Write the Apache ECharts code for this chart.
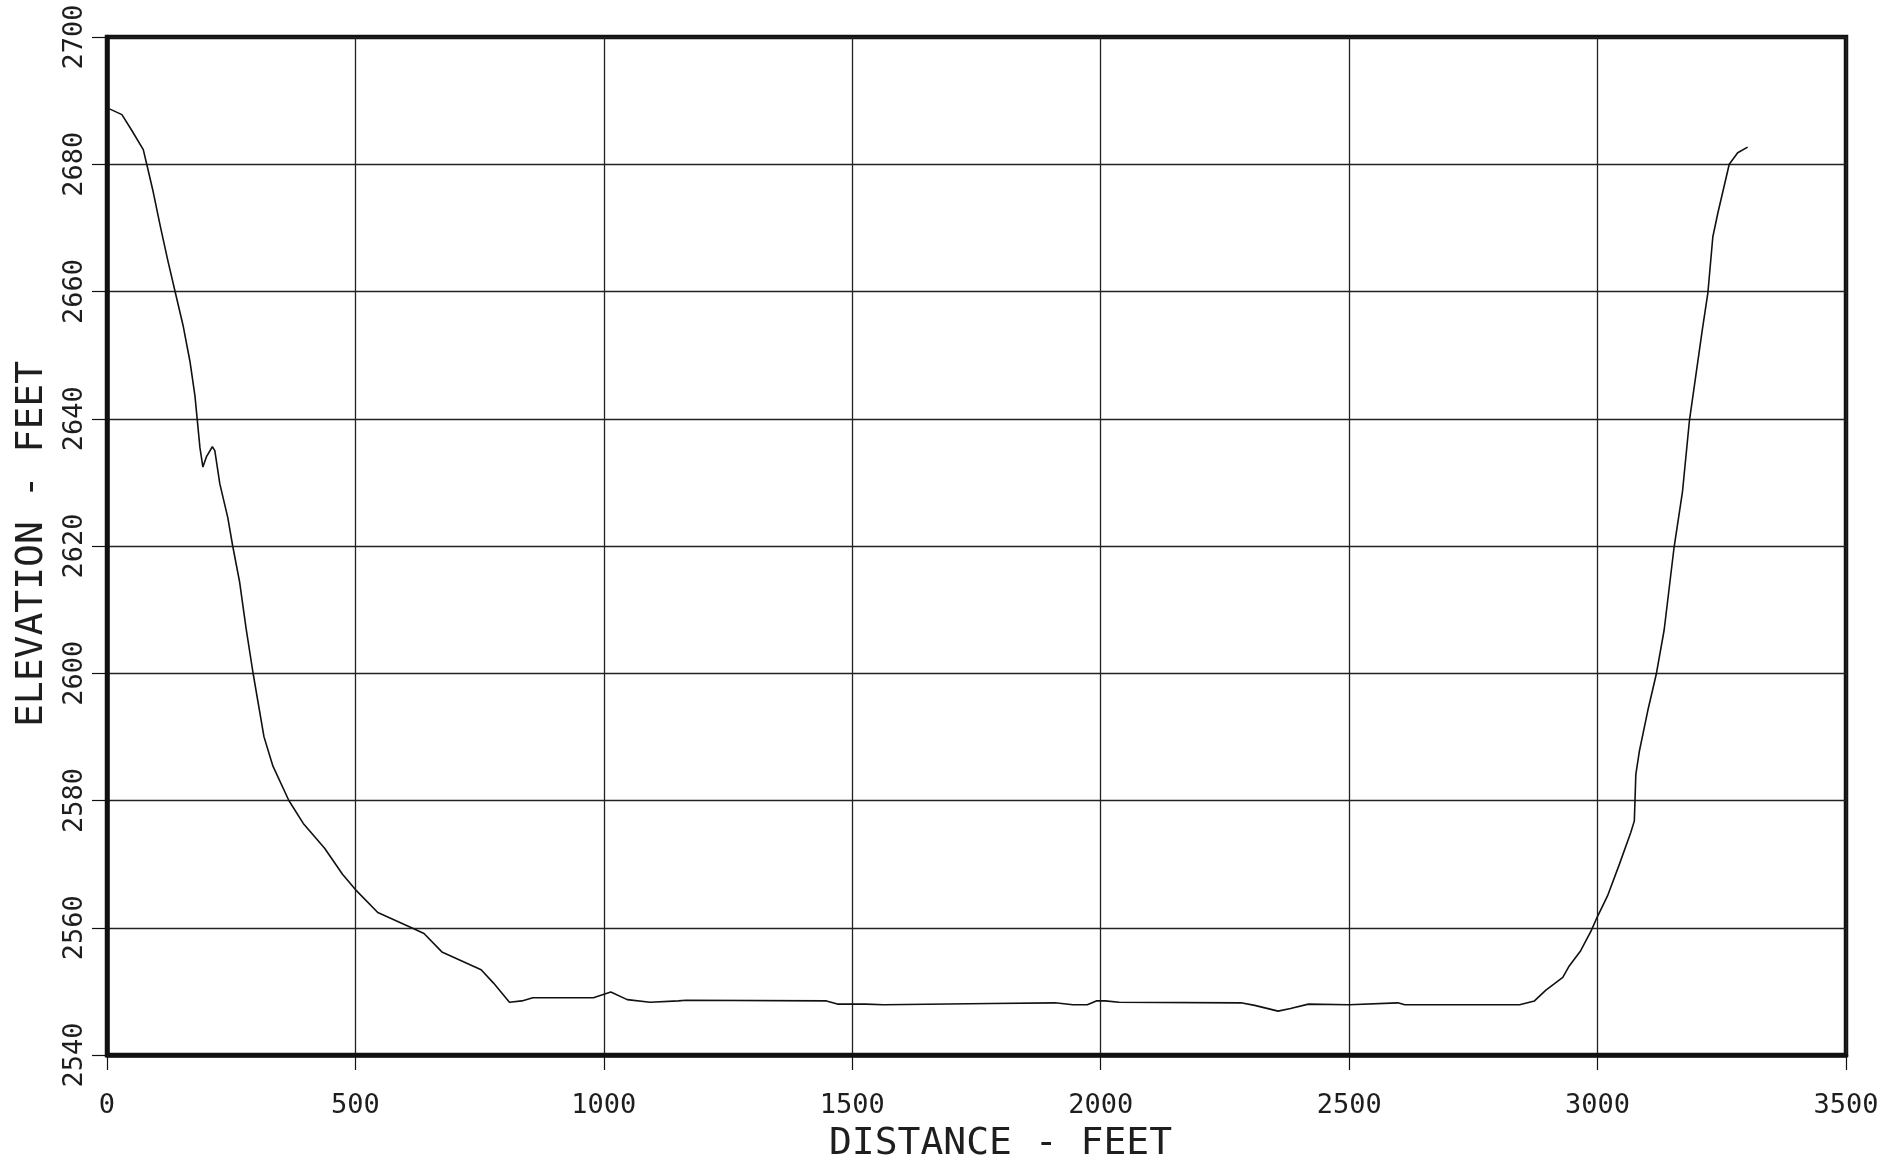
<!DOCTYPE html>
<html>
<head>
<meta charset="utf-8">
<title>Elevation profile</title>
<script src="https://cdn.jsdelivr.net/npm/echarts@6/dist/echarts.min.js"></script>
<style>
  html, body { margin: 0; padding: 0; background: #ffffff; }
  #chart { width: 1902px; height: 1168px; }
</style>
</head>
<body>
<div id="chart"></div>
<script>
// Cross-section profile: distance along the section (ft) and ground elevation (ft)
const distanceFt = [
  5, 30, 50, 73, 80, 92, 108, 122, 137, 153, 167, 177, 187, 193, 200, 212, 217, 227, 243, 253,
  267, 280, 294, 316, 334, 366, 395, 438, 474, 500, 545, 613, 638, 674, 753, 778, 810, 835, 857, 979,
  1014, 1047, 1093, 1150, 1165, 1448, 1470, 1527, 1563, 1779, 1908, 1944, 1973, 1991, 2009, 2037, 2282, 2310, 2357, 2382,
  2418, 2500, 2598, 2612, 2843, 2873, 2896, 2930, 2943, 2966, 2987, 3000, 3020, 3044, 3067, 3074, 3077, 3084, 3101, 3118,
  3134, 3154, 3171, 3185, 3211, 3222, 3232, 3242, 3265, 3282, 3302
];
const elevationFt = [
  2688.7, 2687.8, 2685.3, 2682.3, 2680.0, 2676.0, 2670.0, 2665.0, 2660.0, 2654.7, 2649.0, 2643.6, 2635.5, 2632.4, 2634.0, 2635.6, 2635.0, 2629.8, 2624.5, 2620.0,
  2614.3, 2607.0, 2600.0, 2590.0, 2585.4, 2580.0, 2576.4, 2572.5, 2568.4, 2566.0, 2562.4, 2560.0, 2559.1, 2556.2, 2553.4, 2551.3, 2548.3, 2548.5, 2549.0, 2549.0,
  2549.9, 2548.7, 2548.3, 2548.5, 2548.6, 2548.5, 2548.0, 2548.0, 2547.9, 2548.1, 2548.2, 2547.9, 2547.9, 2548.5, 2548.5, 2548.3, 2548.2, 2547.8, 2546.9, 2547.3,
  2548.0, 2547.9, 2548.2, 2547.9, 2547.9, 2548.5, 2550.2, 2552.2, 2554.0, 2556.4, 2559.5, 2561.8, 2565.0, 2570.0, 2575.0, 2576.8, 2584.1, 2587.7, 2594.1, 2599.8,
  2606.8, 2619.8, 2628.6, 2639.8, 2654.1, 2659.8, 2668.6, 2672.3, 2680.0, 2681.8, 2682.7
];

// Axis ranges and tick spacing
const distanceRange = [0, 3500];
const distanceStep = 500;
const elevationRange = [2540, 2700];
const elevationStep = 20;

const xTitle = 'DISTANCE - FEET';
const yTitle = 'ELEVATION - FEET';

const profile = distanceFt.map((d, i) => [d, elevationFt[i]]);

const plotFont = 'DejaVu Sans Mono';
const ink = '#111111';
const textInk = '#1e1e1e';
const plainNumber = v => String(v);

const chart = echarts.init(document.getElementById('chart'), null, { renderer: 'canvas' });

chart.setOption({
  backgroundColor: '#ffffff',
  animation: false,
  grid: {
    left: 107,
    top: 37,
    right: 56,
    bottom: 101,
    show: true,
    borderColor: ink,
    borderWidth: 4.5,
    backgroundColor: 'transparent'
  },
  xAxis: {
    type: 'value',
    min: distanceRange[0],
    max: distanceRange[1],
    interval: distanceStep,
    name: xTitle,
    nameLocation: 'middle',
    nameGap: 70,
    nameTextStyle: {
      fontFamily: plotFont,
      fontSize: 38,
      color: textInk,
      padding: [0, 0, 0, 48]
    },
    axisLine: { show: true, lineStyle: { color: ink, width: 4.5 } },
    axisTick: { show: true, inside: false, length: 15, lineStyle: { color: ink, width: 1.2 } },
    axisLabel: {
      fontFamily: plotFont,
      fontSize: 27,
      color: textInk,
      margin: 37,
      formatter: plainNumber
    },
    splitLine: { show: true, lineStyle: { color: '#222222', width: 1.3 } }
  },
  yAxis: {
    type: 'value',
    min: elevationRange[0],
    max: elevationRange[1],
    interval: elevationStep,
    name: yTitle,
    nameLocation: 'middle',
    nameGap: 56,
    nameRotate: 90,
    nameTextStyle: {
      fontFamily: plotFont,
      fontSize: 38,
      color: textInk,
      padding: [0, 0, 0, 4]
    },
    axisLine: { show: true, lineStyle: { color: ink, width: 4.5 } },
    axisTick: { show: true, inside: false, length: 15, lineStyle: { color: ink, width: 1.2 } },
    axisLabel: {
      fontFamily: plotFont,
      fontSize: 27,
      color: textInk,
      rotate: 90,
      margin: 19,
      formatter: plainNumber
    },
    splitLine: { show: true, lineStyle: { color: '#222222', width: 1.3 } }
  },
  series: [{
    type: 'line',
    data: profile,
    showSymbol: false,
    symbol: 'none',
    smooth: false,
    lineStyle: { color: '#111111', width: 1.6 },
    z: 5
  }]
});
</script>
</body>
</html>
